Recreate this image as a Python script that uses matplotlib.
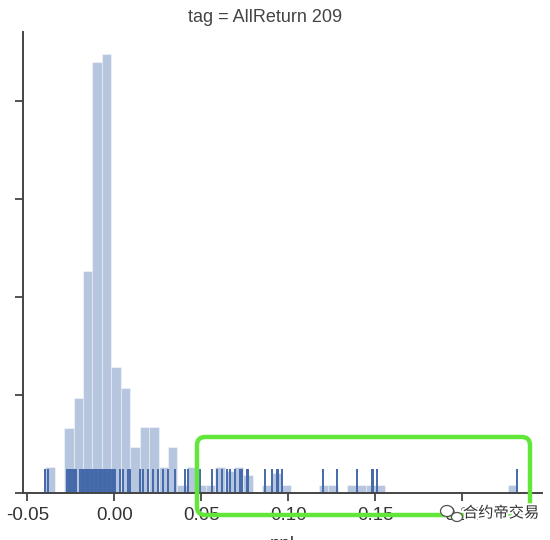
import numpy as np
import matplotlib.pyplot as plt
import matplotlib.patheffects as pe
from matplotlib.patches import FancyBboxPatch, Ellipse

plt.rcParams['font.family'] = ['Liberation Sans', 'DejaVu Sans']

# Sample positions (pnl values)
rug_values = [
    -0.0397, -0.0379,
    -0.0270, -0.0262, -0.0255, -0.0248, -0.0240, -0.0233, -0.0226, -0.0218,
    -0.0195, -0.0188, -0.0180, -0.0172, -0.0165, -0.0158, -0.0150, -0.0143,
    -0.0135, -0.0128, -0.0120, -0.0113, -0.0105, -0.0098, -0.0090, -0.0083,
    -0.0075, -0.0068, -0.0060, -0.0053, -0.0045, -0.0038, -0.0030, -0.0023,
    -0.0015, -0.0008, 0.0000, 0.0006,
    0.0034, 0.0052, 0.0080, 0.0092, 0.0149, 0.0167, 0.0195, 0.0224, 0.0253,
    0.0282, 0.0310, 0.0351, 0.0408, 0.0425, 0.0494, 0.0563, 0.0592, 0.0621,
    0.0649, 0.0667, 0.0695, 0.0724, 0.0736, 0.0764, 0.0770, 0.0868, 0.0908,
    0.0937, 0.0943, 0.0966, 0.1201, 0.1282, 0.1397, 0.1483, 0.1489, 0.1511,
    0.2316,
]

# Histogram heights (density) for 50 equal bins between min and max sample
hist_heights = [
    2.65, 0.0, 6.6, 9.7, 22.6, 43.9, 44.8, 12.8, 10.7, 4.7,
    6.7, 6.7, 2.65, 4.7, 0.8, 2.65, 0.8, 0.8, 2.65, 2.2,
    2.65, 1.8, 0.0, 0.8, 2.0, 0.8, 0.0, 0.0, 0.0, 0.8,
    0.8, 0.0, 0.8, 0.8, 0.8, 0.8, 0.0, 0.0, 0.0, 0.0,
    0.0, 0.0, 0.0, 0.0, 0.0, 0.0, 0.0, 0.0, 0.0, 0.8,
]

x_ticks = [-0.05, 0.00, 0.05, 0.10, 0.15, 0.20]
y_ticks = [0, 10, 20, 30, 40]
title = "tag = AllReturn 209"
watermark = "合约帝交易"

rug = np.array(rug_values)
edges = np.linspace(rug.min(), rug.max(), len(hist_heights) + 1)
widths = np.diff(edges)

blue = "#4c72b0"

fig = plt.figure(figsize=(5.5, 5.4), dpi=100)
ax = fig.add_axes([23 / 550, 1 - 493 / 540, (542 - 23) / 550, (493 - 32) / 540])

ax.bar(edges[:-1], hist_heights, width=widths, align='edge', color=blue,
       alpha=0.4, edgecolor='white', linewidth=0.8)

# rug
ax.vlines(rug, 0, 0.053, transform=ax.get_xaxis_transform(), color="#4469aa",
          linewidth=1.4)

ax.set_xlim(-0.05247, 0.2458)
ax.set_ylim(0, 47.0)
ax.set_xticks(x_ticks)
ax.set_xticklabels([f"{t:.2f}" for t in x_ticks], fontsize=13.5, color='#333333')
ax.set_yticks(y_ticks)
ax.set_yticklabels([])
ax.tick_params(axis='both', length=6, width=1.3, color='#444444')
ax.tick_params(axis='x', pad=4)
for side in ['top', 'right']:
    ax.spines[side].set_visible(False)
for side in ['left', 'bottom']:
    ax.spines[side].set_color('#444444')
    ax.spines[side].set_linewidth(1.4)
ax.set_xlabel("pnl", fontsize=13.5, color='#333333', labelpad=9)

fig.text(265 / 550, 1 - 17 / 540, title, ha='center', va='center',
         fontsize=13, color='#444444')

# green highlight box
box = FancyBboxPatch((197 / 550, 1 - 515 / 540), (530 - 197) / 550, (515 - 437) / 540,
                     boxstyle="round,pad=0,rounding_size=0.015",
                     transform=fig.transFigure, fill=False,
                     edgecolor='#62e639', linewidth=3.2, zorder=10)
fig.add_artist(box)

# watermark
fig.add_artist(Ellipse((447 / 550, 1 - 511 / 540), 13 / 550, 11 / 540,
                       transform=fig.transFigure, facecolor='white',
                       edgecolor='#555555', linewidth=0.9, zorder=11))
fig.add_artist(Ellipse((457 / 550, 1 - 517 / 540), 11 / 550, 9 / 540,
                       transform=fig.transFigure, facecolor='white',
                       edgecolor='#555555', linewidth=0.9, zorder=11))
fig.text(501 / 550, 1 - 513 / 540, watermark, ha='center', va='center',
         fontsize=11, color='#333333', zorder=12,
         family=['Noto Sans CJK SC', 'DejaVu Sans'],
         path_effects=[pe.withStroke(linewidth=3, foreground='white')])

fig.savefig("out.png", dpi=100)
